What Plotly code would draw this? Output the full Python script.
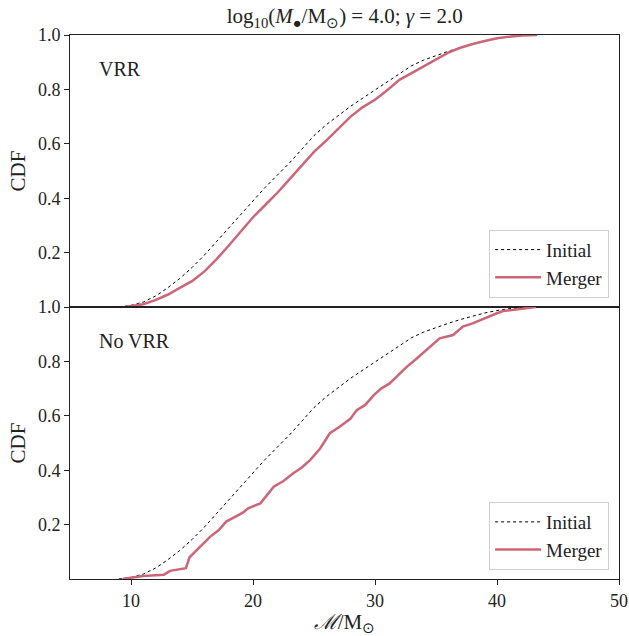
import plotly.graph_objects as go
from plotly.subplots import make_subplots

# Initial distribution (same in both panels)
x_init = [9.0, 10, 11, 12, 13, 14, 15, 16, 17, 18, 19, 20, 21, 22, 23, 24, 25, 26,
          27, 28, 29, 30, 31, 32, 33, 34, 35, 36, 37, 38, 39, 40, 41, 42, 43]
y_init = [0.0, 0.006, 0.018, 0.04, 0.07, 0.105, 0.145, 0.19, 0.24, 0.29, 0.34, 0.39,
          0.44, 0.485, 0.53, 0.58, 0.63, 0.67, 0.705, 0.738, 0.768, 0.797, 0.826,
          0.857, 0.887, 0.908, 0.925, 0.94, 0.954, 0.967, 0.978, 0.987, 0.994, 0.998, 1.0]

# Merger, VRR panel
x_vrr = [9.5, 10, 11, 12, 13, 14, 15, 16, 17, 18, 19, 20, 21, 22, 23, 24, 25, 26,
         27, 28, 29, 30, 31, 32, 33, 34, 35, 36, 37, 38, 39, 40, 41, 42, 43.3]
y_vrr = [0.0, 0.003, 0.01, 0.025, 0.045, 0.07, 0.095, 0.13, 0.175, 0.225, 0.278, 0.33,
         0.375, 0.42, 0.47, 0.52, 0.57, 0.612, 0.655, 0.70, 0.735, 0.762, 0.797, 0.835,
         0.86, 0.885, 0.91, 0.935, 0.953, 0.967, 0.978, 0.988, 0.994, 0.998, 1.0]

# Merger, No VRR panel
x_novrr = [9.3, 10, 11, 12, 12.7, 13.2, 14.3, 14.5, 14.8, 15.5, 16.5, 17.2, 17.8, 18.8,
           19.2, 19.6, 20.6, 21.0, 21.7, 22.5, 23.3, 24.0, 24.7, 25.5, 26.3, 27.1, 28.0,
           28.5, 29.2, 29.9, 30.5, 31.2, 31.9, 32.6, 33.4, 34.2, 35.3, 36.4, 37.2, 38.0,
           38.6, 39.3, 40.0, 40.5, 41.3, 42.0, 42.8, 43.2]
y_novrr = [0.0, 0.005, 0.011, 0.014, 0.016, 0.03, 0.038, 0.04, 0.08, 0.11, 0.156, 0.18,
           0.211, 0.235, 0.245, 0.26, 0.278, 0.30, 0.339, 0.36, 0.389, 0.41, 0.438, 0.48,
           0.536, 0.56, 0.59, 0.621, 0.64, 0.676, 0.70, 0.719, 0.75, 0.78, 0.81, 0.842,
           0.885, 0.897, 0.928, 0.94, 0.952, 0.965, 0.977, 0.985, 0.989, 0.993, 0.997, 1.0]

panel_labels = ["VRR", "No VRR"]
x_ticks = [10, 20, 30, 40, 50]
y_ticks = [0.2, 0.4, 0.6, 0.8, 1.0]

FONT = "Liberation Serif"
PINK = "#CC6677"

fig = make_subplots(rows=2, cols=1, shared_xaxes=True, vertical_spacing=0)

fig.add_trace(go.Scatter(x=x_init, y=y_init, mode="lines", name="Initial",
                         line=dict(color="black", width=1, dash="dot"),
                         legend="legend"), row=1, col=1)
fig.add_trace(go.Scatter(x=x_vrr, y=y_vrr, mode="lines", name="Merger",
                         line=dict(color=PINK, width=2.5),
                         legend="legend"), row=1, col=1)
fig.add_trace(go.Scatter(x=x_init, y=y_init, mode="lines", name="Initial",
                         line=dict(color="black", width=1, dash="dot"),
                         legend="legend2"), row=2, col=1)
fig.add_trace(go.Scatter(x=x_novrr, y=y_novrr, mode="lines", name="Merger",
                         line=dict(color=PINK, width=2.5),
                         legend="legend2"), row=2, col=1)

axis_common = dict(showline=True, linecolor="#222", linewidth=1, mirror=True,
                   showgrid=False, zeroline=False, ticks="outside", ticklen=5,
                   tickcolor="#222", automargin=False,
                   tickfont=dict(size=18, color="#222", family=FONT))

fig.update_xaxes(range=[5, 50], tickvals=x_ticks, **axis_common)
fig.update_xaxes(showticklabels=False, ticks="", row=1, col=1)
fig.update_xaxes(title=dict(text="<i>ℳ</i>/M<sub>⊙</sub>", font=dict(size=21, family=FONT),
                            standoff=4), row=2, col=1)
fig.update_yaxes(range=[0, 1], tickvals=y_ticks, tickformat=".1f", **axis_common)
fig.update_yaxes(title=dict(text="CDF", font=dict(size=21, family=FONT), standoff=6))

legend_style = dict(bgcolor="white", bordercolor="#d0d0d0", borderwidth=1,
                    font=dict(size=19, family=FONT, color="#222"),
                    xanchor="right", yanchor="bottom", x=0.982, tracegroupgap=2,
                    itemwidth=46)
fig.update_layout(
    legend=dict(y=0.517, **legend_style),
    legend2=dict(y=0.0165, **legend_style),
)

fig.add_annotation(x=7.2, y=0.875, xref="x", yref="y", text=panel_labels[0],
                   showarrow=False, xanchor="left", yanchor="middle",
                   font=dict(size=20, family=FONT, color="#222"))
fig.add_annotation(x=7.2, y=0.875, xref="x2", yref="y2", text=panel_labels[1],
                   showarrow=False, xanchor="left", yanchor="middle",
                   font=dict(size=20, family=FONT, color="#222"))

fig.update_layout(
    width=629, height=636,
    margin=dict(l=70, r=10, t=35, b=57, autoexpand=False),
    paper_bgcolor="white", plot_bgcolor="white",
    font=dict(family=FONT, color="#222"),
    title=dict(text="log<sub>10</sub>(<i>M</i><sub>●</sub>/M<sub>⊙</sub>) = 4.0; <i>γ</i> = 2.0",
               x=0.548, xanchor="center", y=0.975, yanchor="middle",
               font=dict(size=21, family=FONT, color="#222")),
)

fig.write_html("out.html")
